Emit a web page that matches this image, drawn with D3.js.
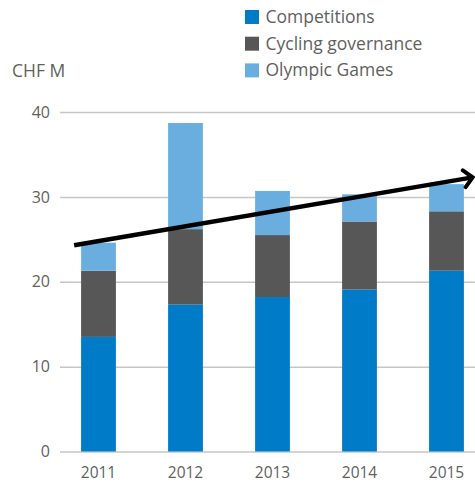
<!DOCTYPE html>
<html>
<head>
<meta charset="utf-8">
<script src="https://cdn.jsdelivr.net/npm/d3@7"></script>
<style>
  html, body { margin: 0; padding: 0; background: #fff; }
  svg { display: block; font-family: "Open Sans", "DejaVu Sans", sans-serif; }
</style>
</head>
<body>
<svg id="chart" width="475" height="485"></svg>
<script>
// Revenue split by activity, CHF millions
const years = ["2011", "2012", "2013", "2014", "2015"];
const competitions = [13.5, 17.3, 18.2, 19.1, 21.3];
const cyclingGovernance = [7.8, 8.9, 7.3, 8.0, 7.0];
const olympicGames = [3.3, 12.5, 5.2, 3.2, 3.2];
const seriesNames = ["Competitions", "Cycling governance", "Olympic Games"];
const yTicks = [0, 10, 20, 30, 40];
// Trend arrow: [year index position, value] at its two ends
const trendStart = [-0.28, 24.3];
const trendEnd = [4.3, 32.3];

const colors = ["#007bc7", "#575757", "#6aaee0"];

const svg = d3.select("#chart");

const x = d3.scaleBand()
  .domain(years)
  .range([55, 490])
  .paddingInner(0.6)
  .paddingOuter(0.3);

const y = d3.scaleLinear()
  .domain([0, 40])
  .range([451.5, 112]);

// Index scale through the bar centres, used for the trend arrow
const xi = d3.scaleLinear()
  .domain([0, years.length - 1])
  .range([x(years[0]) + x.bandwidth() / 2, x(years[years.length - 1]) + x.bandwidth() / 2]);

// Gridlines and value labels
const yAxis = d3.axisLeft(y)
  .tickValues(yTicks)
  .tickSize(-(475 - 60))
  .tickPadding(10);

const gy = svg.append("g")
  .attr("transform", "translate(60,0)")
  .call(yAxis);
gy.select(".domain").remove();
gy.selectAll(".tick line")
  .attr("stroke", "#c6c6c6")
  .attr("stroke-width", 1.5);
gy.selectAll(".tick text")
  .attr("fill", "#5f5f5f")
  .attr("font-size", 16)
  .attr("font-family", "Open Sans, sans-serif");

// Year labels
const xAxis = d3.axisBottom(x).tickSize(0).tickPadding(15);
const gx = svg.append("g")
  .attr("transform", `translate(0,${y(0)})`)
  .call(xAxis);
gx.select(".domain").remove();
gx.selectAll(".tick text")
  .attr("fill", "#5f5f5f")
  .attr("font-size", 15.5)
  .attr("font-family", "Open Sans, sans-serif");

// Stacked bars
const rows = years.map((yr, i) => ({
  year: yr,
  Competitions: competitions[i],
  "Cycling governance": cyclingGovernance[i],
  "Olympic Games": olympicGames[i]
}));
const stacked = d3.stack().keys(seriesNames)(rows);

svg.append("g")
  .selectAll("g")
  .data(stacked)
  .join("g")
  .attr("fill", (d, i) => colors[i])
  .selectAll("rect")
  .data(d => d)
  .join("rect")
  .attr("x", d => x(d.data.year))
  .attr("width", x.bandwidth())
  .attr("y", d => y(d[1]))
  .attr("height", d => y(d[0]) - y(d[1]));

// Trend arrow with an open chevron head
const defs = svg.append("defs");
defs.append("marker")
  .attr("id", "chevron")
  .attr("viewBox", "0 0 16 24")
  .attr("refX", 12)
  .attr("refY", 12)
  .attr("markerWidth", 16)
  .attr("markerHeight", 24)
  .attr("markerUnits", "userSpaceOnUse")
  .attr("orient", "auto")
  .append("path")
  .attr("d", "M3.5,3.5 L12,12 L3.5,20.5")
  .attr("fill", "none")
  .attr("stroke", "#000")
  .attr("stroke-width", 4)
  .attr("stroke-linecap", "round");

svg.append("line")
  .attr("x1", xi(trendStart[0]))
  .attr("y1", y(trendStart[1]))
  .attr("x2", xi(trendEnd[0]))
  .attr("y2", y(trendEnd[1]))
  .attr("stroke", "#000")
  .attr("stroke-width", 4.5)
  .attr("marker-end", "url(#chevron)");

// Unit label
svg.append("text")
  .attr("x", 12)
  .attr("y", 77)
  .attr("fill", "#5f5f5f")
  .attr("font-size", 17.5)
  .text("CHF M");

// Legend
const legend = svg.append("g").attr("transform", "translate(245,0)");
const items = legend.selectAll("g")
  .data(seriesNames)
  .join("g")
  .attr("transform", (d, i) => `translate(0,${17 + i * 26.7})`);
items.append("rect")
  .attr("x", 0)
  .attr("y", -7)
  .attr("width", 14)
  .attr("height", 14)
  .attr("fill", (d, i) => colors[i]);
items.append("text")
  .attr("x", 20.5)
  .attr("y", 6)
  .attr("fill", "#5f5f5f")
  .attr("font-size", 17.5)
  .text(d => d);
</script>
</body>
</html>
